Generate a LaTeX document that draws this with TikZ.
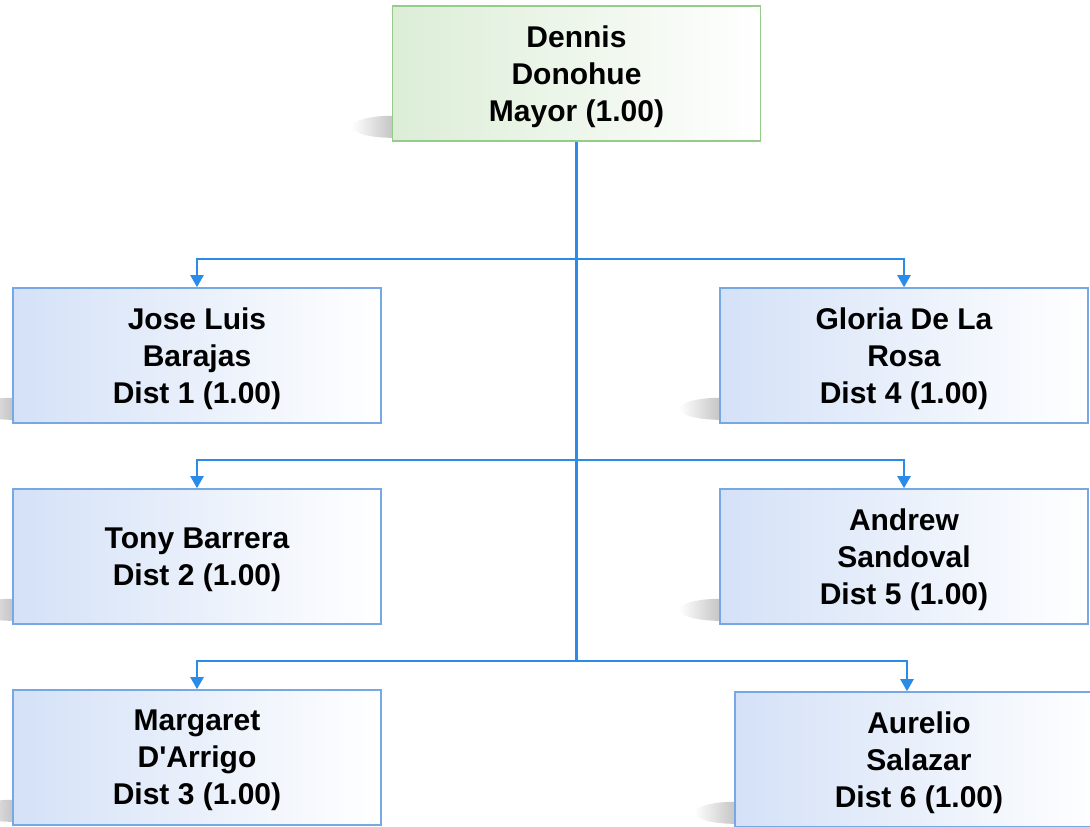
\documentclass[tikz,border=0pt]{standalone}
\usepackage{fontspec}
\setmainfont{Liberation Sans}
\usetikzlibrary{arrows.meta,backgrounds,fadings}

\definecolor{linkblue}{RGB}{42,140,232}
\definecolor{edgeblue}{RGB}{118,168,228}
\definecolor{fillblue}{RGB}{212,225,247}
\definecolor{edgegreen}{RGB}{150,204,138}
\definecolor{fillgreen}{RGB}{220,237,215}

\tikzfading[name=fadeleft, left color=transparent!100, right color=transparent!0]

\tikzset{
  person/.style={draw=edgeblue, line width=1.6pt, left color=fillblue, right color=white,
    minimum width=368pt, minimum height=135pt, align=center, text depth=-3pt,
    font=\bfseries\fontsize{30}{37}\selectfont},
  mayorbox/.style={person, draw=edgegreen, left color=fillgreen, right color=white},
  link/.style={draw=linkblue, line width=2.2pt},
  arr/.style={link, -{Triangle[length=12pt,width=13pt]}}
}

\newcommand{\boxshadow}[1]{%
  \fill[black!75, opacity=0.6, path fading=fadeleft]
    ([yshift=15pt]#1.south west) ellipse [x radius=40pt, y radius=11pt];}

\begin{document}
\begin{tikzpicture}[x=1pt,y=-1pt]
\useasboundingbox (0,0) rectangle (1090,827);

\node[mayorbox] (mayor) at (576.5,73.5) {Dennis\\Donohue\\Mayor (1.00)};

\node[person] (jose)     at (197,355.5) {Jose Luis\\Barajas\\Dist 1 (1.00)};
\node[person] (tony)     at (197,556.5) {Tony Barrera\\Dist 2 (1.00)};
\node[person] (margaret) at (197,757.5) {Margaret\\D\textquotesingle Arrigo\\Dist 3 (1.00)};

\node[person] (gloria)   at (904,355.5) {Gloria De La\\Rosa\\Dist 4 (1.00)};
\node[person] (andrew)   at (904,556.5) {Andrew\\Sandoval\\Dist 5 (1.00)};
\node[person] (aurelio)  at (919,759.5) {Aurelio\\Salazar\\Dist 6 (1.00)};

% shadows behind the boxes
\begin{scope}[on background layer]
\foreach \n in {mayor,jose,tony,margaret,gloria,andrew,aurelio}
  \boxshadow{\n};
\end{scope}

% junctions on the trunk
\coordinate (j1) at (mayor.south |- 0,259);
\coordinate (j2) at (mayor.south |- 0,460);
\coordinate (j3) at (mayor.south |- 0,661);

\draw[link] (mayor.south) -- (j3);
\draw[arr] (j1) -| (jose.north);
\draw[arr] (j1) -| (gloria.north);
\draw[arr] (j2) -| (tony.north);
\draw[arr] (j2) -| (andrew.north);
\draw[arr] (j3) -| (margaret.north);
\draw[arr] (j3) -| ([xshift=-12pt]aurelio.north);
\end{tikzpicture}
\end{document}
